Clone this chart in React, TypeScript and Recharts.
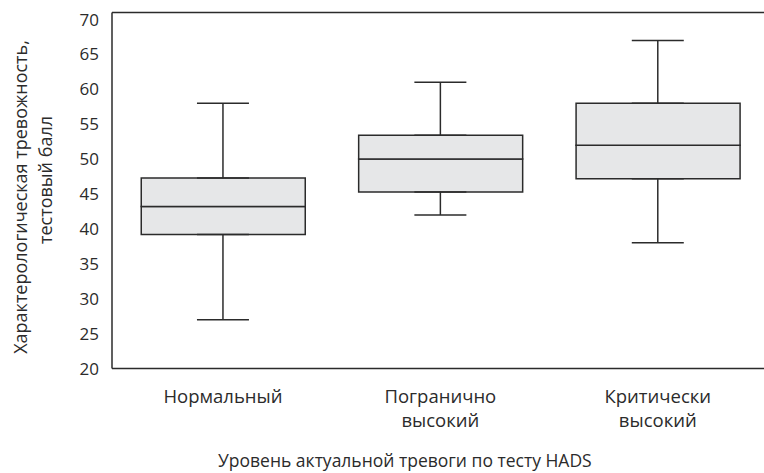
import React from 'react';
import { ComposedChart, Bar, Line, ErrorBar, XAxis, YAxis, ReferenceLine } from 'recharts';

// box plot values
const categories = ['Нормальный', 'Погранично высокий', 'Критически высокий'];
const mins = [27, 42, 38];
const q1s = [39.2, 45.3, 47.2];
const medians = [43.2, 50, 52];
const q3s = [47.3, 53.4, 58];
const maxs = [58, 61, 67];
const yTicks = [20, 25, 30, 35, 40, 45, 50, 55, 60, 65, 70];

const FONT = '"Open Sans", sans-serif';
const INK = '#2b2b2b';
const BOX_FILL = '#e6e7e8';

const rows = categories.map((name, i) => ({
  name,
  base: q1s[i],
  lower: medians[i] - q1s[i],
  upper: q3s[i] - medians[i],
  q1: q1s[i],
  q3: q3s[i],
  lowErr: [q1s[i] - mins[i], 0],
  highErr: [0, maxs[i] - q3s[i]],
}));

const CategoryTick = (props: any) => {
  const { x, y, payload } = props;
  const lines = String(payload.value).split(' ');
  return (
    <g transform={`translate(${x},${y})`}>
      {lines.map((t, i) => (
        <text key={i} x={0} y={34 + i * 24} textAnchor="middle" fill={INK} fontSize={18.5} fontFamily={FONT}>
          {t}
        </text>
      ))}
    </g>
  );
};

// two-line rotated axis title, placed by hand like the original
const YTitle = () => (
  <g fontFamily={FONT} fontSize={18} fill={INK}>
    <text transform="translate(27,197) rotate(-90)" textAnchor="middle" fill={INK}>
      Характерологическая тревожность,
    </text>
    <text transform="translate(52,180) rotate(-90)" textAnchor="middle" fill={INK}>
      тестовый балл
    </text>
  </g>
);

const XTitle = () => (
  <text x={218} y={467} textAnchor="start" fontFamily={FONT} fontSize={17.5} fill={INK}>
    Уровень актуальной тревоги по тесту HADS
  </text>
);

export default function App() {
  return (
    <div style={{ width: 764, height: 473, overflow: 'hidden' }}>
      <style>{'body { margin: 0; }'}</style>
      <ComposedChart
        width={764}
        height={473}
        data={rows}
        margin={{ top: 12.5, right: -2.5, left: 0, bottom: 0 }}
        barGap={0}
      >
        <XAxis
          dataKey="name"
          type="category"
          padding={{ left: 2.25, right: 0 }}
          axisLine={{ stroke: INK, strokeWidth: 1.5 }}
          tickLine={false}
          tickSize={0}
          tickMargin={0}
          height={104.5}
          tick={<CategoryTick />}
          interval={0}
          label={<XTitle />}
        />
        <YAxis
          type="number"
          domain={[20, 71]}
          ticks={yTicks}
          allowDataOverflow
          width={112}
          axisLine={{ stroke: INK, strokeWidth: 1.5 }}
          tickLine={false}
          tickSize={0}
          tickMargin={13}
          tick={{ fill: INK, fontSize: 17, fontFamily: FONT }}
          label={<YTitle />}
        />
        <ReferenceLine y={71} stroke={INK} strokeWidth={1.5} ifOverflow="visible" />
        <Bar dataKey="base" stackId="box" fill="transparent" barSize={164} isAnimationActive={false} />
        <Bar dataKey="lower" stackId="box" fill={BOX_FILL} stroke={INK} strokeWidth={1.5} barSize={164} isAnimationActive={false} />
        <Bar dataKey="upper" stackId="box" fill={BOX_FILL} stroke={INK} strokeWidth={1.5} barSize={164} isAnimationActive={false} />
        <Line dataKey="q3" stroke="none" dot={false} activeDot={false} legendType="none" isAnimationActive={false}>
          <ErrorBar dataKey="highErr" direction="y" width={26} stroke={INK} strokeWidth={1.5} isAnimationActive={false} />
        </Line>
        <Line dataKey="q1" stroke="none" dot={false} activeDot={false} legendType="none" isAnimationActive={false}>
          <ErrorBar dataKey="lowErr" direction="y" width={26} stroke={INK} strokeWidth={1.5} isAnimationActive={false} />
        </Line>
      </ComposedChart>
    </div>
  );
}
